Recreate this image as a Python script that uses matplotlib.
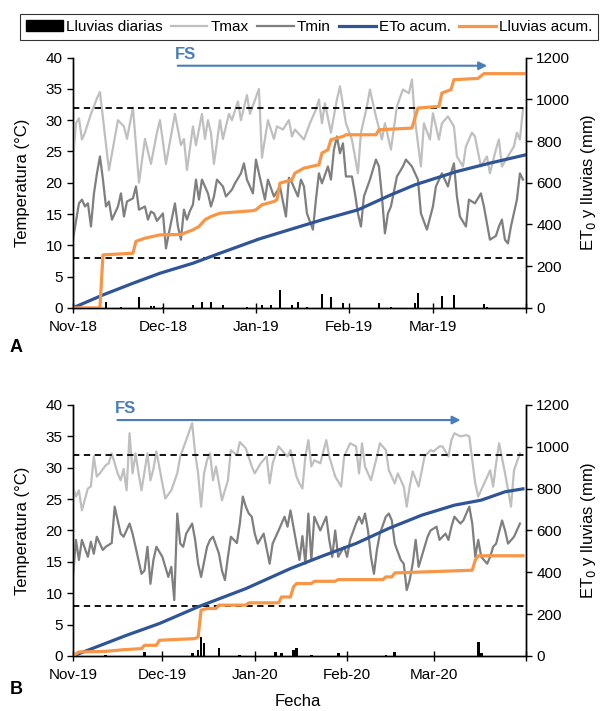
import numpy as np
import pandas as pd
import matplotlib
matplotlib.use('Agg')
import matplotlib.pyplot as plt
from matplotlib.patches import Patch
from matplotlib.lines import Line2D

plt.rcParams['font.family'] = ['Liberation Sans', 'DejaVu Sans']

# ---- panel A (2018-19), days since Nov-1 ----
tmax_a_dias = [0, 1, 2, 3, 4, 6, 8, 9, 12, 15, 17, 18, 20, 22, 24, 26, 28, 29, 31, 34, 36, 37, 38, 40, 41, 43, 44, 45,
               46, 47, 49, 50, 52, 53, 55, 56, 58, 59, 62, 63, 65, 67, 68, 70, 72, 73, 74, 77, 79, 81, 82, 83, 84, 86,
               88, 89, 91, 93, 95, 96, 98, 99, 101, 103, 104, 106, 108, 110, 112, 113, 114, 116, 117, 119, 120, 122,
               123, 125, 127, 128, 130, 131, 133, 134, 136, 138, 139, 141, 142, 143, 145, 147, 148, 149, 150]
tmax_a = [23.7, 29.5, 30.3, 26.9, 28, 31, 33.5, 34.5, 22, 30, 29, 27, 32, 20, 27, 23, 28, 30, 23, 31, 26, 27, 22, 29,
          26, 31, 27, 30, 28, 23, 30, 27, 31, 30, 33, 30, 34, 31, 35, 24, 30, 27, 29, 28.5, 30, 27.4, 28.5, 26.9, 29.5,
          31.7, 33.3, 29.5, 32.7, 28, 33.3, 35.4, 29.5, 26.9, 21.5, 28, 32.2, 34.9, 30.6, 26.9, 29.5, 25.3, 32.2, 34.9,
          34.3, 36.5, 30.1, 22.6, 29.5, 26.9, 31.1, 26.9, 29.5, 30.6, 29, 24.2, 22.6, 25.8, 28, 27.4, 22.6, 24.2, 21.5,
          25.3, 26.9, 22.6, 24.2, 25.8, 28, 26.9, 31.7]

tmin_a_dias = [0, 2, 3, 4, 5, 6, 7, 8, 9, 10, 11, 12, 13, 15, 16, 17, 18, 20, 21, 22, 24, 25, 26, 27, 28, 30, 31, 32,
               34, 35, 36, 37, 38, 39, 40, 41, 42, 43, 45, 46, 47, 48, 50, 51, 53, 54, 56, 57, 58, 60, 61, 62, 64, 65,
               67, 69, 71, 72, 73, 75, 76, 77, 78, 80, 81, 82, 83, 85, 86, 87, 88, 89, 90, 91, 93, 94, 95, 96, 97, 99,
               101, 102, 103, 104, 105, 106, 108, 110, 111, 113, 115, 116, 118, 120, 121, 123, 125, 126, 127, 128, 129,
               131, 132, 134, 136, 137, 139, 141, 142, 143, 144, 145, 146, 148, 149, 150]
tmin_a = [10.9, 16.7, 17.3, 16.2, 16.7, 13, 18.3, 21.5, 24.2, 20.5, 16.2, 17, 14.1, 16.2, 18.3, 14.6, 17, 17.5, 19.4,
          15.7, 16.2, 14.1, 15.4, 15.1, 13.9, 15.1, 9.5, 12, 16.7, 13, 10.9, 15.7, 14.1, 15.5, 16.5, 20.5, 17.3, 20.5,
          18.3, 16.2, 17.8, 20.5, 19.4, 17.8, 18.9, 19.9, 21.5, 23.1, 20.5, 18.3, 23.7, 21.5, 17.3, 20.5, 17.8, 19.4,
          14.6, 20.8, 20, 17.8, 20.5, 19.4, 15.1, 12.5, 17.3, 21.5, 19.9, 22.6, 20.5, 25.3, 27.4, 24.7, 26.3, 21, 21,
          18.3, 15.1, 13, 17.8, 20.5, 23.7, 22.6, 17.8, 11.9, 15.1, 16.2, 21, 22.6, 23.7, 22.6, 20.5, 15.1, 12.5, 16.2,
          19.4, 21.5, 19.4, 21.5, 23.1, 17.8, 14.6, 13, 17.3, 16.7, 18.3, 16.2, 10.9, 11.5, 13, 14.1, 10.9, 10.3, 13,
          17.3, 21.5, 20.5]

eto_a_dias = [0, 10, 20, 29, 40, 49, 62, 72, 83, 95, 106, 114, 128, 139, 151]
eto_a = [0, 62, 118, 166, 214, 262, 330, 374, 422, 470, 542, 590, 654, 694, 734]

lluv_a_dias = [0, 9, 10, 20, 21, 24, 29, 36, 40, 42, 44, 46, 49, 60, 61, 63, 67, 68, 69, 73, 74, 77, 82, 83, 85, 86,
               87, 90, 91, 101, 102, 113, 115, 122, 123, 126, 127, 135, 137, 151]
lluv_a = [0, 0, 254, 262, 319, 334, 350, 352, 374, 390, 422, 438, 454, 466, 470, 494, 510, 518, 598, 614, 646, 670,
          686, 742, 758, 806, 810, 822, 830, 830, 854, 862, 958, 966, 1030, 1046, 1094, 1100, 1123, 1123]

diaria_a_dias = [11, 16, 22, 26, 27, 30, 40, 43, 46, 50, 58, 63, 66, 69, 73, 75, 78, 83, 86, 90, 102, 106, 114, 115,
                 123, 127, 137, 138]
diaria_a = [1.0, 0.2, 1.8, 0.3, 0.3, 0.1, 0.5, 1.0, 1.0, 0.5, 0.2, 0.4, 0.5, 2.9, 0.5, 1.0, 0.2, 2.2, 1.7, 0.7, 0.7,
            0.2, 0.7, 2.35, 1.9, 2.1, 0.6, 0.2]

# ---- panel B (2019-20) ----
tmax_b_dias = [0, 1, 2, 3, 5, 6, 7, 8, 9, 11, 12, 13, 15, 16, 17, 18, 19, 20, 21, 22, 23, 25, 26, 27, 28, 30, 31, 33,
               35, 36, 38, 40, 41, 42, 43, 44, 45, 46, 47, 48, 50, 52, 53, 55, 56, 58, 60, 61, 63, 65, 66, 67, 69, 71,
               72, 73, 75, 76, 77, 78, 79, 80, 81, 83, 85, 86, 88, 90, 91, 93, 95, 96, 97, 98, 100, 102, 103, 105, 106,
               108, 109, 111, 112, 113, 114, 116, 118, 120, 121, 123, 124, 126, 127, 128, 130, 132, 133, 134, 135, 136,
               138, 140, 141, 142, 143, 145, 147, 148, 150]
tmax_b = [27, 25.4, 26.4, 23.2, 26.7, 27, 31.8, 28.6, 29.1, 30.4, 30.7, 32.3, 29.1, 28, 29.8, 26.4, 35.5, 29.1, 32.3,
          29.1, 26.4, 32.3, 28, 29.8, 32.6, 27.5, 25.1, 26.4, 29.1, 31.8, 34.4, 37.1, 32.3, 29.1, 23.8, 29.1, 31.2,
          32.3, 28, 30.2, 24.8, 28, 32.8, 32, 34.1, 33.1, 30.2, 29.1, 30.7, 31.8, 27.5, 30.7, 33.4, 32.3, 31.8, 32.8,
          28.6, 27.5, 26.7, 31.8, 34.4, 30.2, 31.2, 30.7, 34.4, 31.8, 28.6, 27, 31.8, 33.9, 33.4, 29.1, 33.9, 30.2, 28,
          31.8, 33.9, 32.8, 29.6, 27.5, 29.1, 27, 23.8, 27, 29.4, 27, 31.8, 32.8, 32.6, 33.4, 33.4, 31.8, 34.4, 35.5,
          35, 35.2, 35, 31.2, 27.5, 25.4, 27.5, 29.6, 27, 30.7, 33.9, 29.1, 23.8, 29.6, 32.3]

tmin_b_dias = [0, 1, 2, 3, 5, 6, 7, 8, 10, 11, 13, 14, 16, 17, 19, 20, 21, 23, 24, 25, 26, 27, 28, 30, 31, 32, 33, 34,
               35, 36, 37, 38, 40, 41, 42, 43, 45, 46, 47, 49, 50, 51, 52, 53, 55, 56, 57, 58, 59, 60, 61, 62, 64, 66,
               67, 69, 71, 72, 73, 75, 76, 77, 78, 79, 80, 81, 82, 83, 85, 86, 87, 88, 89, 91, 92, 93, 95, 96, 97, 98,
               99, 100, 101, 102, 103, 105, 106, 107, 108, 110, 111, 112, 113, 114, 115, 116, 117, 119, 120, 122, 123,
               125, 126, 127, 128, 130, 131, 133, 134, 135, 136, 137, 139, 140, 141, 142, 144, 145, 146, 148, 150]
tmin_b = [12.6, 18.5, 15.3, 18.5, 15.8, 18.2, 16.3, 19, 16.9, 17.4, 18, 23.8, 19.5, 19, 21.1, 19.5, 17.4, 13.1, 13.6,
          17.4, 11.5, 15.3, 17.4, 15.8, 14.2, 12.6, 14.2, 8.9, 22.7, 17.9, 17.4, 19.5, 21.1, 18.5, 14.7, 12.6, 17.4,
          18.5, 19, 16.3, 13.6, 12.1, 15.8, 19, 18, 21.1, 25.4, 23.8, 22.7, 22.2, 19.5, 17.9, 19.5, 14.7, 17.9, 20,
          22.2, 20.6, 23.2, 17.9, 15.3, 19.1, 14.7, 22.7, 15.3, 22.2, 21.1, 20, 22.2, 18.5, 15.8, 20, 15.8, 17.4, 15.8,
          18.5, 21.1, 22.2, 21.1, 22.7, 20, 15.8, 13.1, 16.9, 19.5, 22.2, 22.7, 21.6, 17.9, 15.3, 14.7, 10.5, 12.1,
          14.7, 18.5, 14.2, 15.8, 19, 20, 20.6, 18.5, 19.5, 18.5, 20.6, 22.2, 21.1, 21.6, 23.8, 21.1, 15.8, 18.5, 15.8,
          14.7, 15.8, 17.4, 17.9, 21.6, 20, 17.9, 19, 21.1]

eto_b_dias = [0, 18, 29, 42, 58, 73, 83, 95, 106, 117, 128, 137, 145, 151]
eto_b = [0, 99, 155, 235, 322, 418, 474, 538, 610, 673, 721, 745, 785, 799]

lluv_b_dias = [0, 2, 11, 17, 23, 24, 28, 29, 41, 42, 43, 45, 48, 49, 58, 59, 69, 70, 73, 74, 75, 80, 81, 88, 89, 104,
               105, 107, 108, 134, 135, 136, 151]
lluv_b = [0, 19, 22, 30, 35, 51, 51, 75, 83, 91, 219, 227, 227, 243, 243, 254, 254, 282, 282, 330, 346, 346, 357, 357,
          365, 365, 378, 378, 397, 410, 458, 479, 479]

diaria_b_dias = [11, 24, 40, 42, 43, 44, 49, 56, 68, 70, 74, 75, 80, 89, 105, 108, 136, 137]
diaria_b = [0.2, 0.6, 0.4, 0.9, 3.0, 2.0, 1.2, 0.2, 0.6, 0.4, 0.9, 1.2, 0.2, 0.4, 0.2, 0.6, 2.2, 0.4]

paneles = [
    dict(inicio='2018-11-01', fin='2019-04-01', letra='A', fs=(34, 139, 38.7, 40.5),
         meses=['Nov-18', 'Dec-18', 'Jan-19', 'Feb-19', 'Mar-19', ''],
         tmax=(tmax_a_dias, tmax_a), tmin=(tmin_a_dias, tmin_a), eto=(eto_a_dias, eto_a),
         lluv=(lluv_a_dias, lluv_a), diaria=(diaria_a_dias, diaria_a)),
    dict(inicio='2019-11-01', fin='2020-04-01', letra='B', fs=(14, 131, 37.6, 39.5),
         meses=['Nov-19', 'Dec-19', 'Jan-20', 'Feb-20', 'Mar-20', ''],
         tmax=(tmax_b_dias, tmax_b), tmin=(tmin_b_dias, tmin_b), eto=(eto_b_dias, eto_b),
         lluv=(lluv_b_dias, lluv_b), diaria=(diaria_b_dias, diaria_b)),
]

c_tmax = '#bfbfbf'
c_tmin = '#7f7f7f'
c_eto = '#2f5597'
c_lluv = '#f79646'
c_fs = '#4a7ebb'

fig = plt.figure(figsize=(6.08, 7.11), dpi=100)
rects = [[0.120, 0.567, 0.745, 0.352], [0.120, 0.0774, 0.745, 0.353]]

for p, r in zip(paneles, rects):
    t0 = pd.Timestamp(p['inicio'])
    fecha = lambda d: t0 + pd.to_timedelta(np.asarray(d), unit='D')

    ax = fig.add_axes(r)
    ax2 = ax.twinx()

    ax.bar(fecha(p['diaria'][0]), p['diaria'][1], width=0.9, color='black', zorder=2)
    ax.plot(fecha(p['tmax'][0]), p['tmax'][1], color=c_tmax, lw=1.6, zorder=3)
    ax.plot(fecha(p['tmin'][0]), p['tmin'][1], color=c_tmin, lw=1.6, zorder=3)
    ax.axhline(32, color='black', ls=(0, (3.5, 2.5)), lw=1.3, zorder=4)
    ax.axhline(8, color='black', ls=(0, (3.5, 2.5)), lw=1.3, zorder=4)

    ax2.plot(fecha(p['eto'][0]), p['eto'][1], color=c_eto, lw=2.3)
    ax2.plot(fecha(p['lluv'][0]), p['lluv'][1], color=c_lluv, lw=2.3)

    ax.set_ylim(0, 40)
    ax.set_yticks(range(0, 41, 5))
    ax2.set_ylim(0, 1200)
    ax2.set_yticks(range(0, 1201, 200))
    ax.set_xlim(pd.Timestamp(p['inicio']), pd.Timestamp(p['fin']))
    ax.set_xticks(pd.date_range(p['inicio'], p['fin'], freq='MS'))
    ax.set_xticklabels(p['meses'])

    for a in (ax, ax2):
        a.spines['top'].set_visible(False)
        for s in a.spines.values():
            s.set_linewidth(1.0)
        a.tick_params(labelsize=11, width=1.0, length=4)
    ax.tick_params(axis='x', direction='inout', length=7, pad=5)

    ax.set_ylabel('Temperatura (°C)', fontsize=12, labelpad=11)
    ax2.set_ylabel('ET$_0$ y lluvias (mm)', fontsize=12, labelpad=6)

    d0, d1, yl, yt = p['fs']
    ax.annotate('', xy=(fecha(d1), yl), xytext=(fecha(d0), yl),
                arrowprops=dict(arrowstyle='-|>', color=c_fs, lw=1.5, mutation_scale=12), annotation_clip=False)
    ax.text(fecha(d0), yt, 'FS', color=c_fs, fontsize=12, fontweight='bold', va='center', ha='left', clip_on=False)

fig.text(10 / 608, 1 - 347 / 711, 'A', fontsize=13, fontweight='bold', va='center')
fig.text(10 / 608, 1 - 690 / 711, 'B', fontsize=13, fontweight='bold', va='center')
fig.text(298 / 608, 1 - 701 / 711, 'Fecha', fontsize=12, ha='center', va='center')

handles = [Patch(facecolor='black', edgecolor='black'),
           Line2D([], [], color=c_tmax, lw=1.6),
           Line2D([], [], color=c_tmin, lw=1.6),
           Line2D([], [], color=c_eto, lw=2.3),
           Line2D([], [], color=c_lluv, lw=2.3)]
labels = ['Lluvias diarias', 'Tmax', 'Tmin', 'ETo acum.', 'Lluvias acum.']
leg = fig.legend(handles, labels, loc='upper center', bbox_to_anchor=(309 / 608, 1 - 14 / 711), ncol=5, fontsize=11,
                 frameon=True, fancybox=False, edgecolor='black', columnspacing=0.55, handlelength=2.4,
                 handletextpad=0.2, borderpad=0.4, borderaxespad=0)
leg.get_frame().set_linewidth(0.8)

fig.savefig('out.png', dpi=100)
